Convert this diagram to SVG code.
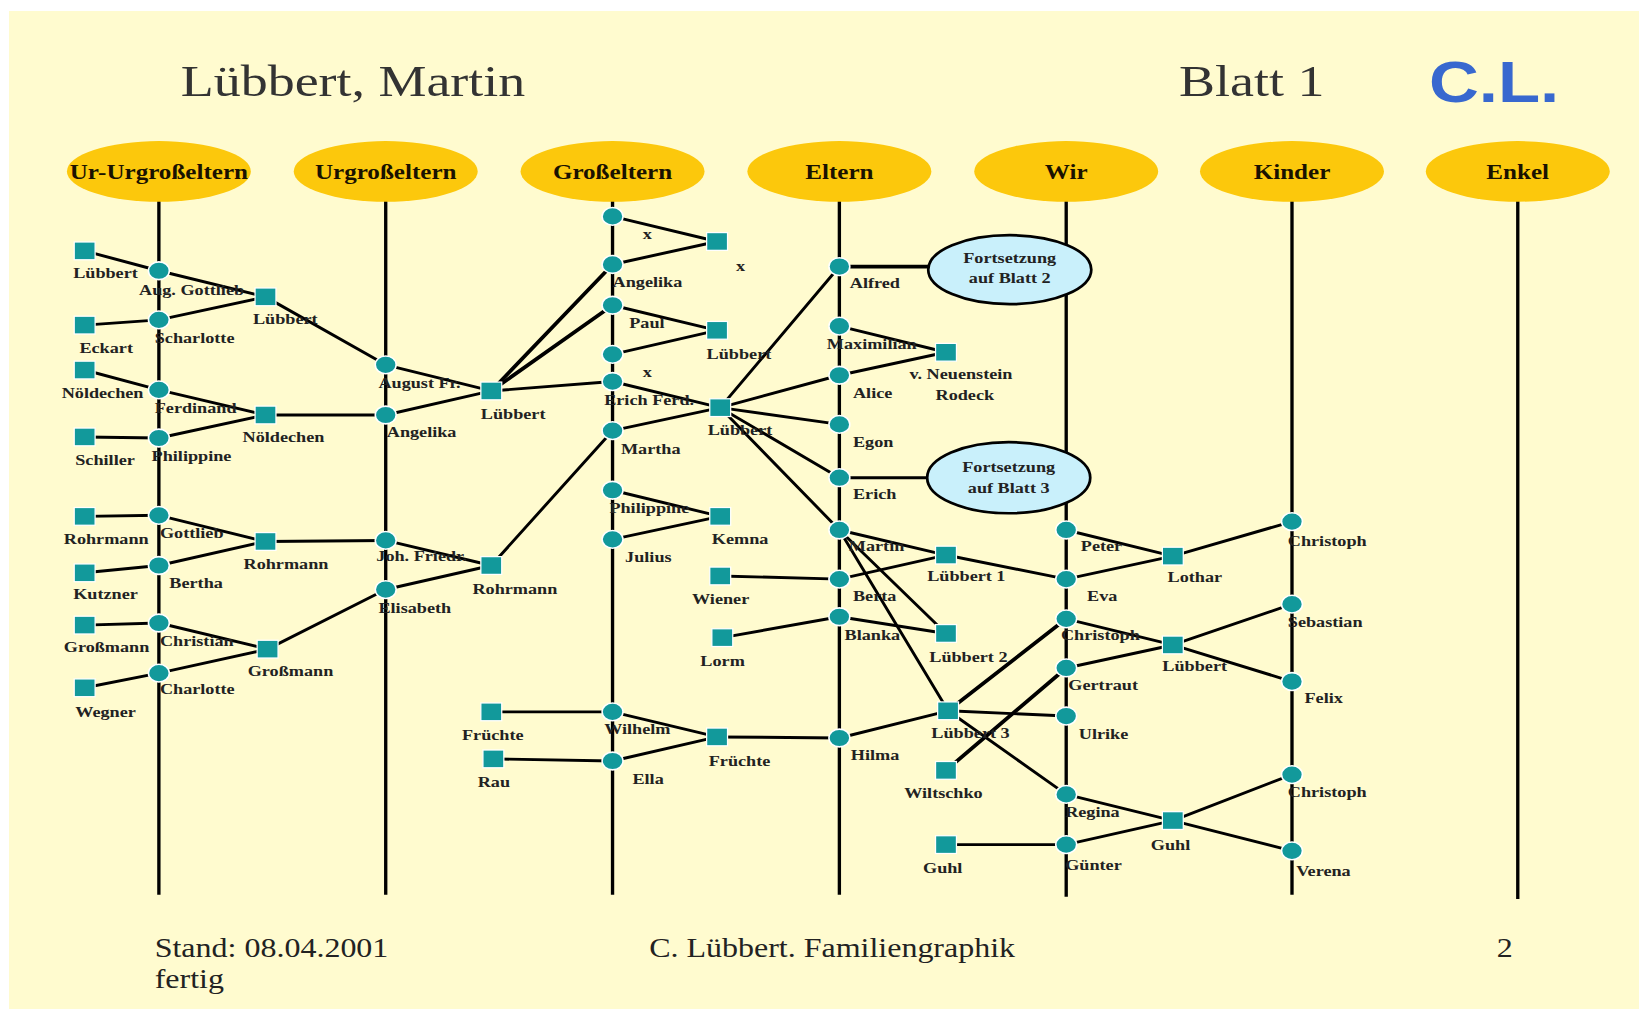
<svg xmlns="http://www.w3.org/2000/svg" width="1639" height="1009" viewBox="0 0 1639 1009">
<style>
  .bg { fill: #FFFBCF; }
  .lane { stroke: #000; stroke-width: 3.2; }
  .hdr { fill: #FCC80C; }
  .cn line { stroke: #000; stroke-width: 2.8; stroke-linecap: round; }
  .cn line.k { stroke-width: 3.6; }
  .p { fill: #12999B; stroke: #FFFFFF; stroke-width: 1.5; }
  .f { fill: #12999B; stroke: #FFFFFF; stroke-width: 1.2; }
  .ct { fill: #C9F0FB; stroke: #000; stroke-width: 2.6; }
  text { font-family: "Liberation Serif", "Times New Roman", serif; fill: #222; transform-box: fill-box; transform-origin: 0 50%; transform: scaleX(1.2); }
  .lbl { font-size: 14.5px; font-weight: bold; }
  .ht { font-size: 20px; font-weight: bold; text-anchor: middle; transform-origin: 50% 50%; fill: #1a1200; }
  .ctt { font-size: 14.5px; font-weight: bold; text-anchor: middle; transform-origin: 50% 50%; }
  .big { font-size: 43px; fill: #333; }
  .ft { font-size: 25.5px; fill: #222; }
  .cl { font-family: "Liberation Sans", Arial, sans-serif; font-weight: bold; font-size: 55px; fill: #3868CF; }
</style>

<rect width="1639" height="1009" fill="#FFFFFF"/>
<rect class="bg" x="9" y="11" width="1630" height="998"/>

<g transform="scale(1.0453)">

  <!-- page heading -->
  <g id="heading">
    <text class="big" x="173" y="92">Lübbert, Martin</text>
    <text class="big" x="1128" y="92">Blatt 1</text>
    <text class="cl" x="1367" y="98">C.L.</text>
  </g>

  <!-- generation lanes -->
  <g id="lanes">
    <line class="lane" x1="152" y1="190" x2="152" y2="856"/>
    <line class="lane" x1="369" y1="190" x2="369" y2="856"/>
    <line class="lane" x1="586" y1="190" x2="586" y2="856"/>
    <line class="lane" x1="803" y1="190" x2="803" y2="856"/>
    <line class="lane" x1="1020" y1="190" x2="1020" y2="858"/>
    <line class="lane" x1="1236" y1="190" x2="1236" y2="856"/>
    <line class="lane" x1="1452" y1="190" x2="1452" y2="860"/>
  </g>
  <g id="gen-ur-urgrosseltern"><ellipse class="hdr" cx="152" cy="164" rx="88" ry="29"/><text class="ht" x="152" y="171">Ur-Urgroßeltern</text></g>
  <g id="gen-urgrosseltern"><ellipse class="hdr" cx="369" cy="164" rx="88" ry="29"/><text class="ht" x="369" y="171">Urgroßeltern</text></g>
  <g id="gen-grosseltern"><ellipse class="hdr" cx="586" cy="164" rx="88" ry="29"/><text class="ht" x="586" y="171">Großeltern</text></g>
  <g id="gen-eltern"><ellipse class="hdr" cx="803" cy="164" rx="88" ry="29"/><text class="ht" x="803" y="171">Eltern</text></g>
  <g id="gen-wir"><ellipse class="hdr" cx="1020" cy="164" rx="88" ry="29"/><text class="ht" x="1020" y="171">Wir</text></g>
  <g id="gen-kinder"><ellipse class="hdr" cx="1236" cy="164" rx="88" ry="29"/><text class="ht" x="1236" y="171">Kinder</text></g>
  <g id="gen-enkel"><ellipse class="hdr" cx="1452" cy="164" rx="88" ry="29"/><text class="ht" x="1452" y="171">Enkel</text></g>

  <!-- family links -->
  <g id="connectors" class="cn">
    <line x1="81" y1="240" x2="152" y2="259"/>
    <line x1="81" y1="311" x2="152" y2="306"/>
    <line x1="81" y1="354" x2="152" y2="373"/>
    <line x1="81" y1="418" x2="152" y2="419"/>
    <line x1="81" y1="494" x2="152" y2="493"/>
    <line x1="81" y1="548" x2="152" y2="541"/>
    <line x1="81" y1="598" x2="152" y2="596"/>
    <line x1="81" y1="658" x2="152" y2="644"/>
    <line x1="152" y1="259" x2="254" y2="284"/>
    <line x1="152" y1="306" x2="254" y2="284"/>
    <line x1="254" y1="284" x2="369" y2="349"/>
    <line x1="152" y1="373" x2="254" y2="397"/>
    <line x1="152" y1="419" x2="254" y2="397"/>
    <line x1="254" y1="397" x2="369" y2="397"/>
    <line x1="152" y1="493" x2="254" y2="518"/>
    <line x1="152" y1="541" x2="254" y2="518"/>
    <line x1="254" y1="518" x2="369" y2="517"/>
    <line x1="152" y1="596" x2="256" y2="621"/>
    <line x1="152" y1="644" x2="256" y2="621"/>
    <line x1="256" y1="621" x2="369" y2="564"/>
    <line x1="369" y1="349" x2="470" y2="374"/>
    <line x1="369" y1="397" x2="470" y2="374"/>
    <line class="k" x1="470" y1="374" x2="586" y2="253"/>
    <line class="k" x1="470" y1="374" x2="586" y2="292"/>
    <line x1="470" y1="374" x2="586" y2="365"/>
    <line x1="369" y1="517" x2="470" y2="541"/>
    <line x1="369" y1="564" x2="470" y2="541"/>
    <line x1="470" y1="541" x2="586" y2="412"/>
    <line x1="586" y1="207" x2="686" y2="231"/>
    <line x1="586" y1="253" x2="686" y2="231"/>
    <line x1="586" y1="292" x2="686" y2="316"/>
    <line x1="586" y1="339" x2="686" y2="316"/>
    <line x1="586" y1="365" x2="689" y2="390"/>
    <line x1="586" y1="412" x2="689" y2="390"/>
    <line x1="689" y1="390" x2="803" y2="255"/>
    <line x1="689" y1="390" x2="803" y2="359"/>
    <line x1="689" y1="390" x2="803" y2="406"/>
    <line x1="689" y1="390" x2="803" y2="457"/>
    <line x1="689" y1="390" x2="803" y2="507"/>
    <line x1="586" y1="469" x2="689" y2="494"/>
    <line x1="586" y1="516" x2="689" y2="494"/>
    <line x1="470" y1="681" x2="586" y2="681"/>
    <line x1="472" y1="726" x2="586" y2="728"/>
    <line x1="586" y1="681" x2="686" y2="705"/>
    <line x1="586" y1="728" x2="686" y2="705"/>
    <line x1="686" y1="705" x2="803" y2="706"/>
    <line x1="689" y1="551" x2="803" y2="554"/>
    <line x1="691" y1="610" x2="803" y2="590"/>
    <line class="k" x1="803" y1="255" x2="890" y2="255"/>
    <line x1="803" y1="457" x2="889" y2="457"/>
    <line x1="803" y1="312" x2="905" y2="337"/>
    <line x1="803" y1="359" x2="905" y2="337"/>
    <line x1="803" y1="507" x2="905" y2="531"/>
    <line x1="803" y1="554" x2="905" y2="531"/>
    <line x1="803" y1="507" x2="905" y2="606"/>
    <line x1="803" y1="590" x2="905" y2="606"/>
    <line x1="803" y1="507" x2="907" y2="680"/>
    <line x1="803" y1="706" x2="907" y2="680"/>
    <line x1="905" y1="531" x2="1020" y2="554"/>
    <line class="k" x1="907" y1="680" x2="1020" y2="592"/>
    <line class="k" x1="905" y1="737" x2="1020" y2="639"/>
    <line x1="907" y1="680" x2="1020" y2="685"/>
    <line x1="907" y1="680" x2="1020" y2="760"/>
    <line x1="905" y1="808" x2="1020" y2="808"/>
    <line x1="1020" y1="507" x2="1122" y2="532"/>
    <line x1="1020" y1="554" x2="1122" y2="532"/>
    <line x1="1122" y1="532" x2="1236" y2="499"/>
    <line x1="1020" y1="592" x2="1122" y2="617"/>
    <line x1="1020" y1="639" x2="1122" y2="617"/>
    <line x1="1122" y1="617" x2="1236" y2="578"/>
    <line x1="1122" y1="617" x2="1236" y2="652"/>
    <line x1="1020" y1="760" x2="1122" y2="785"/>
    <line x1="1020" y1="808" x2="1122" y2="785"/>
    <line x1="1122" y1="785" x2="1236" y2="741"/>
    <line x1="1122" y1="785" x2="1236" y2="814"/>
  </g>

  <!-- continuation notes -->
  <g id="cont-blatt2"><ellipse class="ct" cx="966" cy="258" rx="78" ry="33"/><text class="ctt" x="966" y="252">Fortsetzung</text><text class="ctt" x="966" y="271">auf Blatt 2</text></g>
  <g id="cont-blatt3"><ellipse class="ct" cx="965" cy="457" rx="78" ry="34"/><text class="ctt" x="965" y="452">Fortsetzung</text><text class="ctt" x="965" y="472">auf Blatt 3</text></g>

  <!-- generation 1: Ur-Urgroßeltern and their parents' families -->
  <g id="n-luebbert-a"><rect class="f" x="71" y="231.5" width="20" height="17"/><text class="lbl" x="70" y="266">Lübbert</text></g>
  <g id="n-eckart"><rect class="f" x="71" y="302.5" width="20" height="17"/><text class="lbl" x="76" y="338">Eckart</text></g>
  <g id="n-noeldechen-a"><rect class="f" x="71" y="345.5" width="20" height="17"/><text class="lbl" x="59" y="381">Nöldechen</text></g>
  <g id="n-schiller"><rect class="f" x="71" y="409.5" width="20" height="17"/><text class="lbl" x="72" y="445">Schiller</text></g>
  <g id="n-rohrmann-a"><rect class="f" x="71" y="485.5" width="20" height="17"/><text class="lbl" x="61" y="520">Rohrmann</text></g>
  <g id="n-kutzner"><rect class="f" x="71" y="539.5" width="20" height="17"/><text class="lbl" x="70" y="573">Kutzner</text></g>
  <g id="n-grossmann-a"><rect class="f" x="71" y="589.5" width="20" height="17"/><text class="lbl" x="61" y="624">Großmann</text></g>
  <g id="n-wegner"><rect class="f" x="71" y="649.5" width="20" height="17"/><text class="lbl" x="72" y="686">Wegner</text></g>

  <g id="n-aug-gottlieb"><ellipse class="p" cx="152" cy="259" rx="10" ry="8.5"/><text class="lbl" x="133" y="282">Aug. Gottlieb</text></g>
  <g id="n-scharlotte"><ellipse class="p" cx="152" cy="306" rx="10" ry="8.5"/><text class="lbl" x="148" y="328">Scharlotte</text></g>
  <g id="n-ferdinand"><ellipse class="p" cx="152" cy="373" rx="10" ry="8.5"/><text class="lbl" x="148" y="395">Ferdinand</text></g>
  <g id="n-philippine-a"><ellipse class="p" cx="152" cy="419" rx="10" ry="8.5"/><text class="lbl" x="145" y="441">Philippine</text></g>
  <g id="n-gottlieb"><ellipse class="p" cx="152" cy="493" rx="10" ry="8.5"/><text class="lbl" x="153" y="515">Gottlieb</text></g>
  <g id="n-bertha"><ellipse class="p" cx="152" cy="541" rx="10" ry="8.5"/><text class="lbl" x="162" y="563">Bertha</text></g>
  <g id="n-christian"><ellipse class="p" cx="152" cy="596" rx="10" ry="8.5"/><text class="lbl" x="153" y="618">Christian</text></g>
  <g id="n-charlotte"><ellipse class="p" cx="152" cy="644" rx="10" ry="8.5"/><text class="lbl" x="153" y="664">Charlotte</text></g>

  <g id="f-luebbert-1"><rect class="f" x="244" y="275.5" width="20" height="17"/><text class="lbl" x="242" y="310">Lübbert</text></g>
  <g id="f-noeldechen"><rect class="f" x="244" y="388.5" width="20" height="17"/><text class="lbl" x="232" y="423">Nöldechen</text></g>
  <g id="f-rohrmann-1"><rect class="f" x="244" y="509.5" width="20" height="17"/><text class="lbl" x="233" y="544">Rohrmann</text></g>
  <g id="f-grossmann"><rect class="f" x="246" y="612.5" width="20" height="17"/><text class="lbl" x="237" y="647">Großmann</text></g>

  <!-- generation 2: Urgroßeltern -->
  <g id="n-august-fr"><ellipse class="p" cx="369" cy="349" rx="10" ry="8.5"/><text class="lbl" x="362" y="371">August Fr.</text></g>
  <g id="n-angelika-a"><ellipse class="p" cx="369" cy="397" rx="10" ry="8.5"/><text class="lbl" x="370" y="418">Angelika</text></g>
  <g id="n-joh-friedr"><ellipse class="p" cx="369" cy="517" rx="10" ry="8.5"/><text class="lbl" x="360" y="537">Joh. Friedr.</text></g>
  <g id="n-elisabeth"><ellipse class="p" cx="369" cy="564" rx="10" ry="8.5"/><text class="lbl" x="362" y="586">Elisabeth</text></g>

  <g id="f-luebbert-2"><rect class="f" x="460" y="365.5" width="20" height="17"/><text class="lbl" x="460" y="401">Lübbert</text></g>
  <g id="f-rohrmann-2"><rect class="f" x="460" y="532.5" width="20" height="17"/><text class="lbl" x="452" y="568">Rohrmann</text></g>
  <g id="n-fruechte-a"><rect class="f" x="460" y="672.5" width="20" height="17"/><text class="lbl" x="442" y="708">Früchte</text></g>
  <g id="n-rau"><rect class="f" x="462" y="717.5" width="20" height="17"/><text class="lbl" x="457" y="753">Rau</text></g>

  <!-- generation 3: Großeltern -->
  <g id="n-x-1"><ellipse class="p" cx="586" cy="207" rx="10" ry="8.5"/><text class="lbl" x="615" y="229">x</text></g>
  <g id="n-angelika-b"><ellipse class="p" cx="586" cy="253" rx="10" ry="8.5"/><text class="lbl" x="586" y="275">Angelika</text></g>
  <g id="n-paul"><ellipse class="p" cx="586" cy="292" rx="10" ry="8.5"/><text class="lbl" x="602" y="314">Paul</text></g>
  <g id="n-x-2"><ellipse class="p" cx="586" cy="339" rx="10" ry="8.5"/><text class="lbl" x="615" y="361">x</text></g>
  <g id="n-erich-ferd"><ellipse class="p" cx="586" cy="365" rx="10" ry="8.5"/><text class="lbl" x="578" y="387">Erich Ferd.</text></g>
  <g id="n-martha"><ellipse class="p" cx="586" cy="412" rx="10" ry="8.5"/><text class="lbl" x="594" y="434">Martha</text></g>
  <g id="n-philippine-b"><ellipse class="p" cx="586" cy="469" rx="10" ry="8.5"/><text class="lbl" x="583" y="491">Philippine</text></g>
  <g id="n-julius"><ellipse class="p" cx="586" cy="516" rx="10" ry="8.5"/><text class="lbl" x="598" y="538">Julius</text></g>
  <g id="n-wilhelm"><ellipse class="p" cx="586" cy="681" rx="10" ry="8.5"/><text class="lbl" x="578" y="702">Wilhelm</text></g>
  <g id="n-ella"><ellipse class="p" cx="586" cy="728" rx="10" ry="8.5"/><text class="lbl" x="605" y="750">Ella</text></g>

  <g id="f-x"><rect class="f" x="676" y="222.5" width="20" height="17"/><text class="lbl" x="704" y="259">x</text></g>
  <g id="f-luebbert-3"><rect class="f" x="676" y="307.5" width="20" height="17"/><text class="lbl" x="676" y="343">Lübbert</text></g>
  <g id="f-luebbert-4"><rect class="f" x="679" y="381.5" width="20" height="17"/><text class="lbl" x="677" y="416">Lübbert</text></g>
  <g id="f-kemna"><rect class="f" x="679" y="485.5" width="20" height="17"/><text class="lbl" x="681" y="520">Kemna</text></g>
  <g id="n-wiener"><rect class="f" x="679" y="542.5" width="20" height="17"/><text class="lbl" x="662" y="578">Wiener</text></g>
  <g id="n-lorm"><rect class="f" x="681" y="601.5" width="20" height="17"/><text class="lbl" x="670" y="637">Lorm</text></g>
  <g id="f-fruechte"><rect class="f" x="676" y="696.5" width="20" height="17"/><text class="lbl" x="678" y="733">Früchte</text></g>

  <!-- generation 4: Eltern -->
  <g id="n-alfred"><ellipse class="p" cx="803" cy="255" rx="10" ry="8.5"/><text class="lbl" x="813" y="276">Alfred</text></g>
  <g id="n-maximilian"><ellipse class="p" cx="803" cy="312" rx="10" ry="8.5"/><text class="lbl" x="791" y="334">Maximilian</text></g>
  <g id="n-alice"><ellipse class="p" cx="803" cy="359" rx="10" ry="8.5"/><text class="lbl" x="816" y="381">Alice</text></g>
  <g id="n-egon"><ellipse class="p" cx="803" cy="406" rx="10" ry="8.5"/><text class="lbl" x="816" y="428">Egon</text></g>
  <g id="n-erich"><ellipse class="p" cx="803" cy="457" rx="10" ry="8.5"/><text class="lbl" x="816" y="477">Erich</text></g>
  <g id="n-martin"><ellipse class="p" cx="803" cy="507" rx="10" ry="8.5"/><text class="lbl" x="812" y="527">Martin</text></g>
  <g id="n-berta"><ellipse class="p" cx="803" cy="554" rx="10" ry="8.5"/><text class="lbl" x="816" y="575">Berta</text></g>
  <g id="n-blanka"><ellipse class="p" cx="803" cy="590" rx="10" ry="8.5"/><text class="lbl" x="808" y="612">Blanka</text></g>
  <g id="n-hilma"><ellipse class="p" cx="803" cy="706" rx="10" ry="8.5"/><text class="lbl" x="814" y="727">Hilma</text></g>

  <g id="n-neuenstein"><rect class="f" x="895" y="328.5" width="20" height="17"/><text class="lbl" x="870" y="363">v. Neuenstein</text><text class="lbl" x="895" y="383">Rodeck</text></g>
  <g id="f-luebbert-5"><rect class="f" x="895" y="522.5" width="20" height="17"/><text class="lbl" x="887" y="556">Lübbert 1</text></g>
  <g id="f-luebbert-6"><rect class="f" x="895" y="597.5" width="20" height="17"/><text class="lbl" x="889" y="633">Lübbert 2</text></g>
  <g id="f-luebbert-7"><rect class="f" x="897" y="671.5" width="20" height="17"/><text class="lbl" x="891" y="706">Lübbert 3</text></g>
  <g id="n-wiltschko"><rect class="f" x="895" y="728.5" width="20" height="17"/><text class="lbl" x="865" y="763">Wiltschko</text></g>
  <g id="n-guhl-a"><rect class="f" x="895" y="799.5" width="20" height="17"/><text class="lbl" x="883" y="835">Guhl</text></g>

  <!-- generation 5: Wir -->
  <g id="n-peter"><ellipse class="p" cx="1020" cy="507" rx="10" ry="8.5"/><text class="lbl" x="1034" y="527">Peter</text></g>
  <g id="n-eva"><ellipse class="p" cx="1020" cy="554" rx="10" ry="8.5"/><text class="lbl" x="1040" y="575">Eva</text></g>
  <g id="n-christoph-a"><ellipse class="p" cx="1020" cy="592" rx="10" ry="8.5"/><text class="lbl" x="1015" y="612">Christoph</text></g>
  <g id="n-gertraut"><ellipse class="p" cx="1020" cy="639" rx="10" ry="8.5"/><text class="lbl" x="1022" y="660">Gertraut</text></g>
  <g id="n-ulrike"><ellipse class="p" cx="1020" cy="685" rx="10" ry="8.5"/><text class="lbl" x="1032" y="707">Ulrike</text></g>
  <g id="n-regina"><ellipse class="p" cx="1020" cy="760" rx="10" ry="8.5"/><text class="lbl" x="1019" y="782">Regina</text></g>
  <g id="n-guenter"><ellipse class="p" cx="1020" cy="808" rx="10" ry="8.5"/><text class="lbl" x="1019" y="832">Günter</text></g>

  <g id="f-lothar"><rect class="f" x="1112" y="523.5" width="20" height="17"/><text class="lbl" x="1117" y="557">Lothar</text></g>
  <g id="f-luebbert-8"><rect class="f" x="1112" y="608.5" width="20" height="17"/><text class="lbl" x="1112" y="642">Lübbert</text></g>
  <g id="f-guhl"><rect class="f" x="1112" y="776.5" width="20" height="17"/><text class="lbl" x="1101" y="813">Guhl</text></g>

  <!-- generation 6: Kinder -->
  <g id="n-christoph-b"><ellipse class="p" cx="1236" cy="499" rx="10" ry="8.5"/><text class="lbl" x="1232" y="522">Christoph</text></g>
  <g id="n-sebastian"><ellipse class="p" cx="1236" cy="578" rx="10" ry="8.5"/><text class="lbl" x="1232" y="600">Sebastian</text></g>
  <g id="n-felix"><ellipse class="p" cx="1236" cy="652" rx="10" ry="8.5"/><text class="lbl" x="1248" y="673">Felix</text></g>
  <g id="n-christoph-c"><ellipse class="p" cx="1236" cy="741" rx="10" ry="8.5"/><text class="lbl" x="1232" y="762">Christoph</text></g>
  <g id="n-verena"><ellipse class="p" cx="1236" cy="814" rx="10" ry="8.5"/><text class="lbl" x="1240" y="838">Verena</text></g>

  <!-- footer -->
  <g id="footer">
    <text class="ft" x="148" y="916">Stand: 08.04.2001</text>
    <text class="ft" x="148" y="945">fertig</text>
    <text class="ft" x="621" y="916">C. Lübbert. Familiengraphik</text>
    <text class="ft" x="1432" y="916">2</text>
  </g>
</g>
</svg>
